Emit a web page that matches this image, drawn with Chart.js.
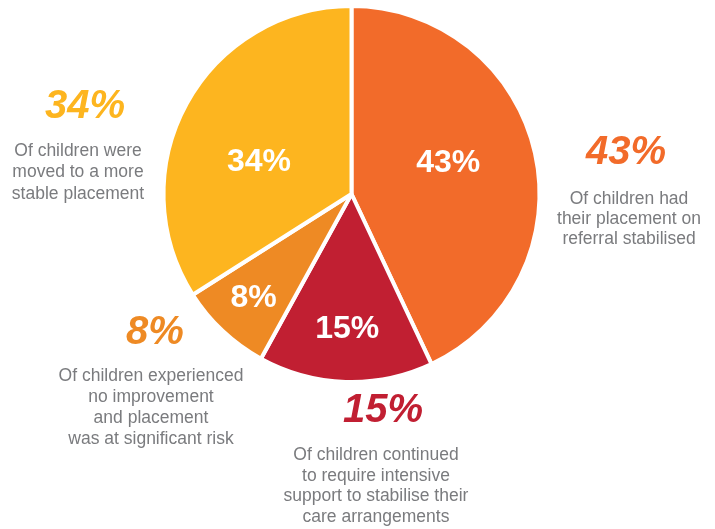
<!DOCTYPE html>
<html>
<head>
<meta charset="utf-8">
<script src="https://cdn.jsdelivr.net/npm/chart.js@4.4.1/dist/chart.umd.min.js"></script>
<style>
  html, body { margin: 0; padding: 0; background: #fff; }
  #wrap { position: relative; width: 715px; height: 529px; }
</style>
</head>
<body>
<div id="wrap"><canvas id="pieChart" width="715" height="529"></canvas></div>
<script>
// Chart data (clockwise from 12 o'clock)
const categories = ['Placement stabilised', 'Continued intensive support', 'No improvement, at risk', 'Moved to more stable placement'];
const shares = [43, 15, 8, 34];
const sliceColours = ['#F26B2A', '#C11F32', '#EE8A24', '#FDB51F'];
const captions = [
  ['Of children had', 'their placement on', 'referral stabilised'],
  ['Of children continued', 'to require intensive', 'support to stabilise their', 'care arrangements'],
  ['Of children experienced', 'no improvement', 'and placement', 'was at significant risk'],
  ['Of children were', 'moved to a more', 'stable placement']
];

// label placement inside the slices (radius fraction, angle shift in degrees)
const innerPlace = [
  { r: 0.54, shift: -5 },
  { r: 0.72, shift: 0 },
  { r: 0.76, shift: 0 },
  { r: 0.52, shift: -10 }
];
// callout placement outside the pie
const calloutPlace = [
  { nx: 626, ny: 153, tx: 629, ty: 199, gap: 20 },
  { nx: 383, ny: 411, tx: 376, ty: 455, gap: 20.7 },
  { nx: 155, ny: 333, tx: 151, ty: 376, gap: 21 },
  { nx: 85, ny: 107, tx: 78, ty: 151, gap: 21.5 }
];

const labelPlugin = {
  id: 'pieLabels',
  afterDatasetsDraw(chart) {
    const ctx = chart.ctx;
    const meta = chart.getDatasetMeta(0);
    ctx.save();
    ctx.textAlign = 'center';
    ctx.textBaseline = 'middle';

    meta.data.forEach((arc, i) => {
      const p = arc.getProps(['x', 'y', 'startAngle', 'endAngle', 'outerRadius'], true);
      const mid = (p.startAngle + p.endAngle) / 2 + innerPlace[i].shift * Math.PI / 180;
      const r = p.outerRadius * innerPlace[i].r;
      ctx.fillStyle = '#ffffff';
      ctx.font = 'bold 32px "Liberation Sans", Arial, sans-serif';
      ctx.fillText(shares[i] + '%', p.x + Math.cos(mid) * r, p.y + Math.sin(mid) * r);

      // outside callout: big number + caption
      const c = calloutPlace[i];
      ctx.fillStyle = sliceColours[i];
      ctx.font = 'italic bold 40px "Liberation Sans", Arial, sans-serif';
      ctx.fillText(shares[i] + '%', c.nx, c.ny);

      ctx.fillStyle = '#7a7b7e';
      ctx.font = '17.5px "Liberation Sans", Arial, sans-serif';
      captions[i].forEach((line, j) => {
        ctx.fillText(line, c.tx, c.ty + j * c.gap);
      });
    });
    ctx.restore();
  }
};

const ctx = document.getElementById('pieChart').getContext('2d');
new Chart(ctx, {
  type: 'pie',
  data: {
    labels: categories,
    datasets: [{
      data: shares,
      backgroundColor: sliceColours,
      borderColor: '#ffffff',
      borderWidth: 4
    }]
  },
  options: {
    responsive: false,
    animation: false,
    radius: 188,
    layout: { padding: { left: 0, right: 12, top: 0, bottom: 141 } },
    plugins: {
      legend: { display: false },
      tooltip: { enabled: false }
    }
  },
  plugins: [labelPlugin]
});
</script>
</body>
</html>
